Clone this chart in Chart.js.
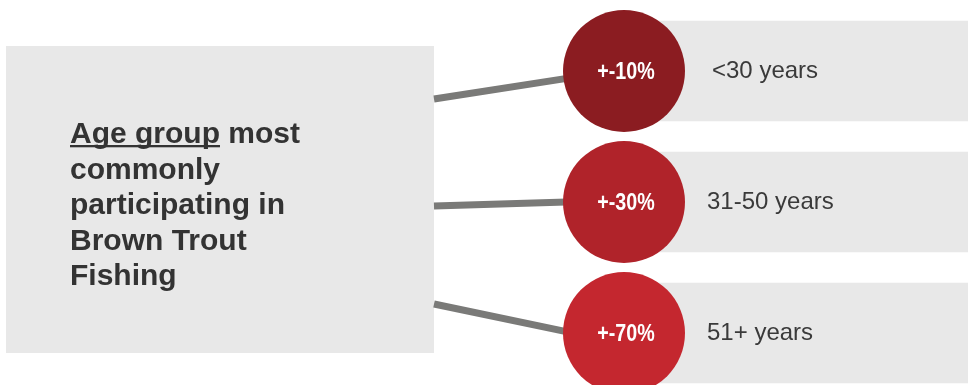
<!DOCTYPE html>
<html>
<head>
<meta charset="utf-8">
<script src="https://cdn.jsdelivr.net/npm/chart.js@4.4.1/dist/chart.umd.min.js"></script>
<style>
  html, body { margin: 0; padding: 0; background: #ffffff; }
  #wrap { width: 968px; height: 385px; position: relative; }
  canvas { display: block; }
</style>
</head>
<body>
<div id="wrap"><canvas id="c" width="968" height="385"></canvas></div>
<script>
// ---- data ----
const ageGroups = ['<30 years', '31-50 years', '51+ years'];
const shares = [10, 30, 70];
const shareLabels = ['+-10%', '+-30%', '+-70%'];
const titleLines = ['Age group most', 'commonly', 'participating in', 'Brown Trout', 'Fishing'];
const titleUnderlined = 'Age group';
const circleColors = ['#8b1c21', '#b0232a', '#c4272f'];

// ---- layout (positions / sizes / styles) ----
const LAYOUT = {
  circleX: 624, circleR: 61,
  boxLeft: 657, boxRight: 968, boxHeight: 100, boxColor: '#e8e8e8',
  labelInset: [55, 50, 50],
  panel: { x: 6, y: 46, w: 428, h: 307, color: '#e8e8e8' },
  title: { x: 70, firstBaseline: 143, lineHeight: 35.6, font: 'bold 30px "Liberation Sans", Arial, sans-serif', color: '#333333' },
  connector: { color: '#7a7a78', width: 7, fromX: 434, fromY: [99, 206, 304], toX: 563, toDy: [8, 0, -2] },
  rowTopPx: 71, rowStepPx: 131, height: 385, width: 968
};

const rows = ageGroups.map((g, i) => i);
const yMin = -LAYOUT.rowTopPx / LAYOUT.rowStepPx;
const yMax = yMin + LAYOUT.height / LAYOUT.rowStepPx;

const infographic = {
  id: 'infographic',
  beforeDatasetsDraw(chart) {
    const ctx = chart.ctx;
    const ys = chart.scales.y;
    const p = LAYOUT.panel;
    ctx.save();
    // left panel
    ctx.fillStyle = p.color;
    ctx.fillRect(p.x, p.y, p.w, p.h);
    // title
    const t = LAYOUT.title;
    ctx.font = t.font;
    ctx.fillStyle = t.color;
    ctx.textAlign = 'left';
    ctx.textBaseline = 'alphabetic';
    titleLines.forEach((line, i) => {
      ctx.fillText(line, t.x, t.firstBaseline + i * t.lineHeight);
    });
    const uw = ctx.measureText(titleUnderlined).width;
    ctx.fillRect(t.x, t.firstBaseline + 2, uw, 2.3);
    // connectors
    const c = LAYOUT.connector;
    ctx.strokeStyle = c.color;
    ctx.lineWidth = c.width;
    ctx.lineCap = 'butt';
    rows.forEach((r, i) => {
      const yy = ys.getPixelForValue(r) + c.toDy[i];
      const fy = c.fromY[i];
      const ext = 20;
      ctx.beginPath();
      ctx.moveTo(c.fromX, fy);
      ctx.lineTo(c.toX + ext, yy + (yy - fy) * ext / (c.toX - c.fromX));
      ctx.stroke();
    });
    ctx.restore();
  },
  afterDatasetsDraw(chart) {
    const ctx = chart.ctx;
    ctx.save();
    const circles = chart.getDatasetMeta(1).data;
    ctx.fillStyle = '#ffffff';
    ctx.font = 'bold 24px "Liberation Sans", Arial, sans-serif';
    ctx.textAlign = 'center';
    ctx.textBaseline = 'middle';
    circles.forEach((pt, i) => {
      ctx.save();
      ctx.translate(pt.x + 2, pt.y + 1);
      ctx.scale(0.82, 1);
      ctx.fillText(shareLabels[i], 0, 0);
      ctx.restore();
    });
    const bars = chart.getDatasetMeta(0).data;
    ctx.fillStyle = '#3a3a3a';
    ctx.font = '24px "Liberation Sans", Arial, sans-serif';
    ctx.textAlign = 'left';
    bars.forEach((b, i) => {
      ctx.fillText(ageGroups[i], Math.min(b.base, b.x) + LAYOUT.labelInset[i], b.y);
    });
    ctx.restore();
  }
};

new Chart(document.getElementById('c'), {
  type: 'bar',
  data: {
    datasets: [
      {
        type: 'bar',
        indexAxis: 'y',
        label: 'rows',
        order: 2,
        data: rows.map(r => ({ y: r, x: [LAYOUT.boxLeft, LAYOUT.boxRight] })),
        backgroundColor: LAYOUT.boxColor,
        borderWidth: 0,
        barThickness: LAYOUT.boxHeight
      },
      {
        type: 'scatter',
        label: 'shares',
        order: 1,
        data: rows.map(r => ({ x: LAYOUT.circleX, y: r, v: shares[r] })),
        pointRadius: LAYOUT.circleR,
        pointHoverRadius: LAYOUT.circleR,
        pointBackgroundColor: circleColors,
        pointBorderWidth: 0,
        borderWidth: 0
      }
    ]
  },
  options: {
    responsive: false,
    animation: false,
    events: [],
    layout: { padding: 0, autoPadding: false },
    plugins: { legend: { display: false }, tooltip: { enabled: false }, title: { display: false } },
    scales: {
      x: { type: 'linear', display: false, offset: false, min: 0, max: LAYOUT.width },
      y: { type: 'linear', display: false, offset: false, reverse: true, min: yMin, max: yMax }
    }
  },
  plugins: [infographic]
});
</script>
</body>
</html>
